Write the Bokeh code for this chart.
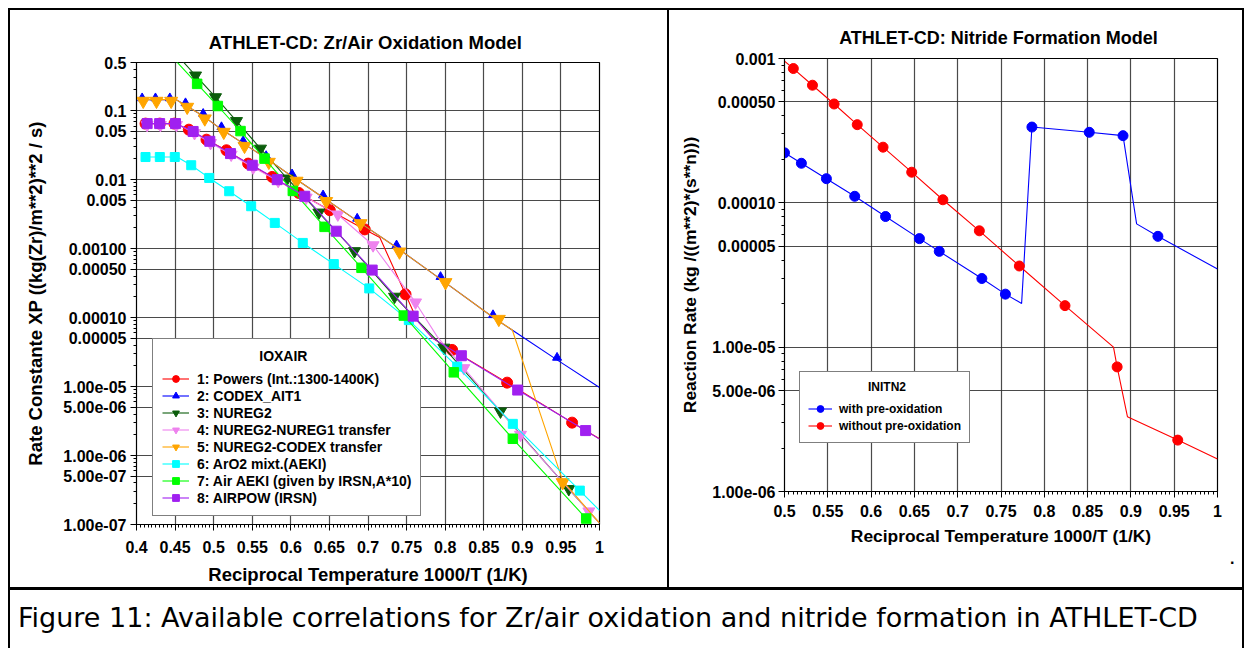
import numpy as np
from bokeh.plotting import figure
from bokeh.models import (FixedTicker, CustomJSTickFormatter, Legend, LegendItem,
                          Div, Title, Range1d)
from bokeh.layouts import row, column
from bokeh.embed import file_html
from bokeh.resources import INLINE

# ======================= LEFT CHART DATA (Zr/Air oxidation) =======================
ox_legend_title = "IOXAIR"
ox_names = ["1: Powers (Int.:1300-1400K)", "2: CODEX_AIT1", "3: NUREG2",
            "4: NUREG2-NUREG1 transfer", "5: NUREG2-CODEX transfer",
            "6: ArO2 mixt.(AEKI)", "7: Air AEKI (given by IRSN,A*10)", "8: AIRPOW (IRSN)"]

# 1 Powers
powers_line_x = [0.407, 0.450, 0.4678, 0.4907, 0.5166, 0.5447, 0.5758, 0.6103, 0.6505, 0.6958,
                 0.7153, 0.7486, 0.764, 0.784, 0.809, 0.8803, 0.9645, 1.0]
powers_line_y = [0.065, 0.065, 0.0531, 0.038, 0.0267, 0.0171, 0.01096, 0.00643, 0.00361, 0.0019,
                 0.00145, 0.000218, 9.0e-5, 5.0e-5, 3.4e-5, 1.14e-5, 3.0e-6, 1.75e-6]
powers_mark_x = [0.4117, 0.4302, 0.4492, 0.4678, 0.4907, 0.5166, 0.5447, 0.5758, 0.6103, 0.6505,
                 0.6958, 0.7486, 0.809, 0.8803, 0.9645]
powers_mark_y = [0.065, 0.065, 0.065, 0.0531, 0.038, 0.0267, 0.0171, 0.01096, 0.00643, 0.00361,
                 0.0019, 0.000218, 3.4e-5, 1.14e-5, 3.0e-6]

# 2 CODEX_AIT1
codex_line_x = [0.407, 0.451, 0.4635, 0.4864, 0.5101, 0.5382, 0.568, 0.6016, 0.6418, 0.686,
                0.737, 0.794, 0.862, 0.945, 1.0]
codex_line_y = [0.145, 0.145, 0.120, 0.0837, 0.0537, 0.0336, 0.0205, 0.0111, 0.0055, 0.00253,
                0.00104, 0.000361, 1.01e-4, 2.44e-5, 9.7e-6]
codex_mark_x = [0.4073, 0.4246, 0.4432, 0.4635, 0.4864, 0.5101, 0.5382, 0.568, 0.6016, 0.6418,
                0.686, 0.737, 0.794, 0.862, 0.945]
codex_mark_y = [0.152, 0.152, 0.152, 0.129, 0.0904, 0.058, 0.0363, 0.0221, 0.012, 0.00594,
                0.00273, 0.00112, 0.00039, 1.09e-4, 2.63e-5]

# 3 NUREG2
nureg2_line_x = [0.455, 0.4765, 0.5024, 0.5296, 0.5607, 0.5953, 0.6363, 0.6825, 0.7344, 0.7983,
                 0.8717, 0.9602, 1.0]
nureg2_line_y = [0.60, 0.324, 0.157, 0.0708, 0.0282, 0.0104, 0.00334, 0.00092, 0.000201, 3.67e-5,
                 4.35e-6, 3.27e-7, 1.05e-7]
nureg2_mark_x = [0.4765, 0.5024, 0.5296, 0.5607, 0.5953, 0.6363, 0.6825, 0.7344, 0.7983, 0.8717,
                 0.9602]
nureg2_mark_y = [0.324, 0.157, 0.0708, 0.0282, 0.0104, 0.00334, 0.00092, 0.000201, 3.67e-5,
                 4.35e-6, 3.27e-7]

# 4 NUREG2-NUREG1 transfer
n21_line_x = [0.407, 0.451, 0.4752, 0.4959, 0.5227, 0.5512, 0.5836, 0.6199, 0.6609, 0.7066,
              0.7616, 0.7897, 0.8004, 0.8242, 0.8976, 0.9862, 1.0]
n21_line_y = [0.065, 0.065, 0.0474, 0.034, 0.0231, 0.015, 0.0096, 0.0055, 0.00313, 0.00112,
              0.000166, 5.3e-5, 3.8e-5, 1.85e-5, 2.0e-6, 1.55e-7, 1.05e-7]
n21_mark_x = [0.4138, 0.431, 0.4518, 0.4752, 0.4959, 0.5227, 0.5512, 0.5836, 0.6199, 0.6609,
              0.7066, 0.7616, 0.8242, 0.8976, 0.9862]
n21_mark_y = [0.062, 0.062, 0.062, 0.0474, 0.034, 0.0231, 0.015, 0.0096, 0.0055, 0.00313,
              0.00112, 0.000166, 1.85e-5, 2.0e-6, 1.55e-7]

# 5 NUREG2-CODEX transfer
n2c_line_x = [0.407, 0.451, 0.4635, 0.4864, 0.5101, 0.5382, 0.568, 0.6016, 0.6418, 0.686,
              0.737, 0.794, 0.862, 0.887, 0.9523, 1.0]
n2c_line_y = [0.145, 0.145, 0.120, 0.0837, 0.0537, 0.0336, 0.0205, 0.0111, 0.0055, 0.00253,
              0.00104, 0.000361, 1.01e-4, 6.6e-5, 4.3e-7, 1.05e-7]
n2c_mark_x = [0.4087, 0.4259, 0.4449, 0.4657, 0.4885, 0.5131, 0.540, 0.5715, 0.6074, 0.6458,
              0.6903, 0.7408, 0.8004, 0.8695, 0.9523]
n2c_mark_y = [0.138, 0.138, 0.138, 0.113, 0.0766, 0.049, 0.0307, 0.018, 0.00957, 0.00486,
              0.00232, 0.0009, 0.000324, 9.5e-5, 4.08e-7]

# 6 ArO2 mixt.(AEKI)
aro2_line_x = [0.407, 0.4527, 0.4709, 0.4942, 0.5201, 0.5486, 0.5792, 0.6155, 0.6557, 0.7016,
               0.7529, 0.8156, 0.8877, 0.9745, 1.0]
aro2_line_y = [0.0213, 0.0213, 0.0162, 0.0106, 0.0068, 0.00412, 0.00236, 0.00121, 0.000597,
               0.000265, 9.2e-5, 1.95e-5, 2.88e-6, 3.1e-7, 1.6e-7]
aro2_mark_x = [0.4117, 0.4302, 0.4496, 0.4709, 0.4942, 0.5201, 0.5486, 0.5792, 0.6155, 0.6557,
               0.7016, 0.7529, 0.8156, 0.8877, 0.9745]
aro2_mark_y = [0.0213, 0.0213, 0.0213, 0.0162, 0.0106, 0.0068, 0.00412, 0.00236, 0.00121,
               0.000597, 0.000265, 9.2e-5, 1.95e-5, 2.88e-6, 3.1e-7]

# 7 Air AEKI
aeki_line_x = [0.450, 0.4786, 0.5054, 0.5348, 0.5659, 0.6026, 0.6437, 0.6916, 0.7464, 0.8112,
               0.8877, 0.9828, 1.0]
aeki_line_y = [0.543, 0.245, 0.117, 0.0507, 0.0202, 0.00687, 0.00207, 0.000527, 0.000107,
               1.61e-5, 1.75e-6, 1.22e-7, 7.4e-8]
aeki_mark_x = [0.4786, 0.5054, 0.5348, 0.5659, 0.6026, 0.6437, 0.6916, 0.7464, 0.8112, 0.8877,
               0.9828]
aeki_mark_y = [0.245, 0.117, 0.0507, 0.0202, 0.00687, 0.00207, 0.000527, 0.000107, 1.61e-5,
               1.75e-6, 1.22e-7]

# 8 AIRPOW (IRSN)
airpow_line_x = [0.407, 0.451, 0.4734, 0.495, 0.5218, 0.55, 0.5823, 0.618, 0.6588, 0.7054,
                 0.7585, 0.784, 0.821, 0.894, 0.982, 1.0]
airpow_line_y = [0.065, 0.065, 0.050, 0.036, 0.0239, 0.0162, 0.0100, 0.00575, 0.00179, 0.000489,
                 0.000105, 5.0e-5, 2.8e-5, 8.9e-6, 2.3e-6, 1.73e-6]
airpow_mark_x = [0.4138, 0.430, 0.4505, 0.4734, 0.495, 0.5218, 0.55, 0.5823, 0.618, 0.6588,
                 0.7054, 0.7585, 0.821, 0.894, 0.982]
airpow_mark_y = [0.065, 0.065, 0.065, 0.050, 0.036, 0.0239, 0.0162, 0.0100, 0.00575, 0.00179,
                 0.000489, 0.000105, 2.8e-5, 8.9e-6, 2.3e-6]

left_y_ticks = [1e-7, 5e-7, 1e-6, 5e-6, 1e-5, 5e-5, 1e-4, 5e-4, 1e-3, 5e-3, 1e-2, 5e-2, 0.1, 0.5]
left_y_labels = ["1.00e-07", "5.00e-07", "1.00e-06", "5.00e-06", "1.00e-05", "0.00005", "0.00010",
                 "0.00050", "0.00100", "0.005", "0.01", "0.05", "0.1", "0.5"]
left_x_ticks = [0.4, 0.45, 0.5, 0.55, 0.6, 0.65, 0.7, 0.75, 0.8, 0.85, 0.9, 0.95, 1.0]
left_x_labels = ["0.4", "0.45", "0.5", "0.55", "0.6", "0.65", "0.7", "0.75", "0.8", "0.85", "0.9",
                 "0.95", "1"]

# ======================= RIGHT CHART DATA (nitride formation) =======================
ni_legend_title = "INITN2"
ni_names = ["with pre-oxidation", "without pre-oxidation"]
withox_line_x = [0.5, 0.5195, 0.5484, 0.5811, 0.6167, 0.6558, 0.6787, 0.7279, 0.7551, 0.7738,
                 0.7857, 0.8519, 0.8909, 0.9066, 0.9312, 1.0]
withox_line_y = [2.22e-4, 1.88e-4, 1.47e-4, 1.11e-4, 8.04e-5, 5.65e-5, 4.61e-5, 2.99e-5, 2.33e-5,
                 2.01e-5, 3.35e-4, 3.08e-4, 2.92e-4, 7.15e-5, 5.86e-5, 3.48e-5]
withox_mark_x = [0.5, 0.5195, 0.5484, 0.5811, 0.6167, 0.6558, 0.6787, 0.7279, 0.7551, 0.7857,
                 0.8519, 0.8909, 0.9312]
withox_mark_y = [2.22e-4, 1.88e-4, 1.47e-4, 1.11e-4, 8.04e-5, 5.65e-5, 4.61e-5, 2.99e-5, 2.33e-5,
                 3.35e-4, 3.08e-4, 2.92e-4, 5.86e-5]
noox_line_x = [0.5, 0.5102, 0.5323, 0.5573, 0.584, 0.6138, 0.6469, 0.6829, 0.725, 0.7712, 0.8239,
               0.8799, 0.8841, 0.896, 0.9541, 1.0]
noox_line_y = [9.6e-4, 8.52e-4, 6.53e-4, 4.84e-4, 3.48e-4, 2.43e-4, 1.63e-4, 1.05e-4, 6.4e-5,
               3.65e-5, 1.94e-5, 1.0e-5, 7.3e-6, 3.3e-6, 2.27e-6, 1.68e-6]
noox_mark_x = [0.5102, 0.5323, 0.5573, 0.584, 0.6138, 0.6469, 0.6829, 0.725, 0.7712, 0.8239,
               0.8841, 0.9541]
noox_mark_y = [8.52e-4, 6.53e-4, 4.84e-4, 3.48e-4, 2.43e-4, 1.63e-4, 1.05e-4, 6.4e-5, 3.65e-5,
               1.94e-5, 7.3e-6, 2.27e-6]

right_y_ticks = [1e-6, 5e-6, 1e-5, 5e-5, 1e-4, 5e-4, 1e-3]
right_y_labels = ["1.00e-06", "5.00e-06", "1.00e-05", "0.00005", "0.00010", "0.00050", "0.001"]
right_x_ticks = [0.5, 0.55, 0.6, 0.65, 0.7, 0.75, 0.8, 0.85, 0.9, 0.95, 1.0]
right_x_labels = ["0.5", "0.55", "0.6", "0.65", "0.7", "0.75", "0.8", "0.85", "0.9", "0.95", "1"]

caption_text = "Figure 11: Available correlations for Zr/air oxidation and nitride formation in ATHLET-CD"

# ======================= helpers =======================
FONT = "Liberation Sans"
NBSP = "\u00a0"


def fmt(vals, labs):
    return CustomJSTickFormatter(args=dict(vals=vals, labs=labs), code="""
        for (let i = 0; i < vals.length; i++) {
            if (Math.abs(vals[i] - tick) <= 1e-6 * Math.abs(vals[i])) { return labs[i]; }
        }
        return "";
    """)


def log_minor(lo, hi):
    out = []
    e = int(np.floor(np.log10(lo)))
    while 10.0 ** e <= hi:
        for m in range(1, 10):
            v = m * 10.0 ** e
            if lo <= v <= hi:
                out.append(v)
        e += 1
    return out


def make_fig(w, h, xr, yr, ml, mr, mt, mb, xt, xl, yt, yl, tick_font, lab_font):
    p = figure(width=w, height=h, x_range=Range1d(*xr), y_range=Range1d(*yr),
               y_axis_type="log", output_backend="svg", toolbar_location=None,
               min_border_left=ml, min_border_right=mr, min_border_top=mt, min_border_bottom=mb)
    p.background_fill_color = "white"
    p.border_fill_color = "white"
    p.outline_line_color = "black"
    p.outline_line_width = 1.2
    xminor = list(np.round(np.arange(xr[0], xr[1] + 1e-9, 0.005), 4))
    p.xaxis.ticker = FixedTicker(ticks=xt, minor_ticks=xminor)
    p.yaxis.ticker = FixedTicker(ticks=yt, minor_ticks=log_minor(yr[0], yr[1]))
    p.xaxis.formatter = fmt(xt, xl)
    p.yaxis.formatter = fmt(yt, yl)
    for ax in (p.xaxis[0], p.yaxis[0]):
        ax.axis_line_color = "black"
        ax.major_tick_line_color = "black"
        ax.minor_tick_line_color = "black"
        ax.major_tick_in = 0
        ax.major_tick_out = 6
        ax.minor_tick_in = 0
        ax.minor_tick_out = 3
        ax.major_label_text_font = FONT
        ax.major_label_text_font_style = "bold"
        ax.major_label_text_font_size = tick_font
        ax.major_label_text_color = "black"
        ax.axis_label_text_font = FONT
        ax.axis_label_text_font_style = "bold"
        ax.axis_label_text_font_size = lab_font
        ax.axis_label_text_color = "black"
    p.grid.grid_line_color = "#2a2a2a"
    p.grid.grid_line_alpha = 0.85
    p.grid.grid_line_width = 1.2
    p.title.align = "center"
    p.title.text_font = FONT
    p.title.text_font_style = "bold"
    p.title.text_color = "black"
    return p


def make_legend(items, title, indent, loc, font_size, glyph_w, pad, stand):
    # title is indented with no-break spaces so that it sits centred in the box
    return Legend(items=items, location=loc, title=NBSP * indent + title,
                  title_text_font=FONT, title_text_font_style="bold",
                  title_text_font_size=font_size, title_text_color="black", title_standoff=6,
                  label_text_font=FONT, label_text_font_style="bold",
                  label_text_font_size=font_size, label_text_color="black",
                  glyph_width=glyph_w, glyph_height=17, label_height=17, spacing=0,
                  label_standoff=stand, padding=pad, margin=0,
                  border_line_color="black", border_line_width=1,
                  background_fill_color="white", background_fill_alpha=1.0)


# ======================= LEFT FIGURE =======================
left = make_fig(657, 577, (0.4, 1.0), (1e-7, 0.5), 126, 68, 52, 62,
                left_x_ticks, left_x_labels, left_y_ticks, left_y_labels, "16px", "18.5px")
left.title.text = "ATHLET-CD: Zr/Air  Oxidation Model"
left.title.text_font_size = "18.5px"
left.title.standoff = 20
left.xaxis.axis_label = "Reciprocal Temperature 1000/T (1/K)"
left.yaxis.axis_label = "Rate Constante XP ((kg(Zr)/m**2)**2 / s)"
left.xaxis.major_label_standoff = 10
left.yaxis.major_label_standoff = 4
left.xaxis.axis_label_standoff = 8
left.yaxis.axis_label_standoff = 14

ox_series = [
    (powers_line_x, powers_line_y, powers_mark_x, powers_mark_y, "#ff0000", "circle", 11),
    (codex_line_x, codex_line_y, codex_mark_x, codex_mark_y, "#0000ff", "triangle", 9),
    (nureg2_line_x, nureg2_line_y, nureg2_mark_x, nureg2_mark_y, "#0b5d0b", "inverted_triangle", 12),
    (n21_line_x, n21_line_y, n21_mark_x, n21_mark_y, "#ee82ee", "inverted_triangle", 12),
    (n2c_line_x, n2c_line_y, n2c_mark_x, n2c_mark_y, "#ffa500", "inverted_triangle", 13),
    (aro2_line_x, aro2_line_y, aro2_mark_x, aro2_mark_y, "#00ffff", "square", 9),
    (aeki_line_x, aeki_line_y, aeki_mark_x, aeki_mark_y, "#00ff00", "square", 9.5),
    (airpow_line_x, airpow_line_y, airpow_mark_x, airpow_mark_y, "#a020f0", "square", 10),
]
ox_items = []
for name, (lx, ly, mx, my, col, mk, sz) in zip(ox_names, ox_series):
    rl = left.line(lx, ly, line_color=col, line_width=1.1)
    rm = left.scatter(mx, my, marker=mk, size=sz, fill_color=col, line_color=col)
    ox_items.append(LegendItem(label=name, renderers=[rl, rm]))

left.add_layout(make_legend(ox_items, ox_legend_title, 25, (16, 8), "14px", 27, 9, 8))

# ======================= RIGHT FIGURE =======================
right = make_fig(573, 577, (0.5, 1.0), (1e-6, 1e-3), 115, 25, 48, 96,
                 right_x_ticks, right_x_labels, right_y_ticks, right_y_labels, "16px", "17.4px")
right.title.text = "ATHLET-CD:  Nitride Formation Model"
right.title.text_font_size = "18px"
right.title.standoff = 22
right.xaxis.axis_label = "Reciprocal Temperature 1000/T (1/K)"
right.yaxis.axis_label = "Reaction Rate (kg /((m**2)*(s**n)))"
right.xaxis.major_label_standoff = 7
right.yaxis.major_label_standoff = 3
right.xaxis.axis_label_standoff = 6
right.yaxis.axis_label_standoff = 9

ni_series = [
    (withox_line_x, withox_line_y, withox_mark_x, withox_mark_y, "#0000ff"),
    (noox_line_x, noox_line_y, noox_mark_x, noox_mark_y, "#ff0000"),
]
ni_items = []
for name, (lx, ly, mx, my, col) in zip(ni_names, ni_series):
    rl = right.line(lx, ly, line_color=col, line_width=1.1)
    rm = right.scatter(mx, my, marker="circle", size=10, fill_color=col, line_color=col)
    ni_items.append(LegendItem(label=name, renderers=[rl, rm]))

right.add_layout(make_legend(ni_items, ni_legend_title, 18, (15, 48), "12px", 24, 8, 7))

dot = Title(text=".", align="right", offset=-17, standoff=-30, text_font=FONT,
            text_font_style="bold", text_font_size="16px", text_color="black")
right.add_layout(dot, "below")

# ======================= LAYOUT WITH BORDERS =======================
def bar(w, h):
    return Div(text="", width=w, height=h, styles={"background-color": "black"}, margin=0)

caption = Div(text=('<div style="font-family:\'DejaVu Sans\';font-size:27px;color:black;'
                    'margin:9px 0 0 8px;white-space:nowrap;">' + caption_text + '</div>'),
              width=1232, height=58, margin=0, styles={"background-color": "white"})

layout = column(
    bar(1236, 2),
    row(bar(2, 577), column(left, spacing=0), bar(2, 577), column(right, spacing=0),
        bar(2, 577), spacing=0),
    bar(1236, 3),
    row(bar(2, 58), caption, bar(2, 58), spacing=0),
    spacing=0,
    margin=(8, 0, 0, 8),
)

open("out.html", "w").write(file_html(layout, INLINE))
